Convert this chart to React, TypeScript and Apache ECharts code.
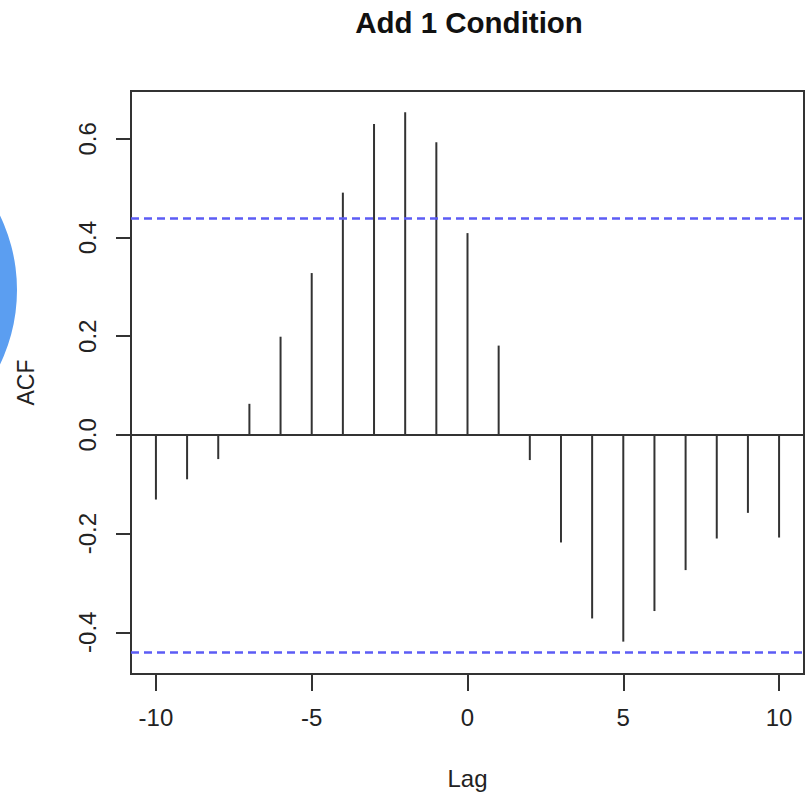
import React, { useEffect, useRef } from "react";
import * as echarts from "echarts";

const lags = [-10, -9, -8, -7, -6, -5, -4, -3, -2, -1, 0, 1, 2, 3, 4, 5, 6, 7, 8, 9, 10];
const acfValues = [
  -0.131, -0.09, -0.049, 0.063, 0.199, 0.328, 0.491, 0.63, 0.654, 0.593, 0.409,
  0.181, -0.051, -0.218, -0.372, -0.419, -0.357, -0.274, -0.21, -0.158, -0.208,
];
const ciBound = 0.441;
const xTicks = [-10, -5, 0, 5, 10];
const yTicks = [-0.4, -0.2, 0, 0.2, 0.4, 0.6];
const titleText = "Add 1 Condition";
const xName = "Lag";
const yName = "ACF";

const FONT = "'Liberation Sans', Arial, Helvetica, sans-serif";
const INK = "#333333";

export default function App() {
  const ref = useRef<HTMLDivElement>(null);

  useEffect(() => {
    if (!ref.current) return;
    const chart = echarts.init(ref.current, null, { renderer: "svg" });
    const data = lags.map((l, i) => [l, acfValues[i]]);
    chart.setOption({
      animation: false,
      backgroundColor: "#ffffff",
      title: {
        text: titleText,
        left: 464,
        top: 2,
        textAlign: "center",
        textStyle: { fontFamily: FONT, fontSize: 29.5, fontWeight: "bold", color: "#111" },
      },
      graphic: [
        {
          type: "circle",
          shape: { cx: -155, cy: 290, r: 172 },
          style: { fill: "#5B9EF1" },
          z: 100,
        },
      ],
      grid: {
        left: 131,
        right: 1,
        top: 91,
        bottom: 123,
        show: true,
        borderColor: INK,
        borderWidth: 2,
        backgroundColor: "transparent",
      },
      xAxis: {
        type: "value",
        min: -10.8,
        max: 10.8,
        name: xName,
        nameLocation: "middle",
        nameGap: 92,
        nameTextStyle: { fontFamily: FONT, fontSize: 24, color: "#222" },
        axisLine: { show: true, onZero: false, lineStyle: { color: INK, width: 2 } },
        axisTick: {
          show: true,
          customValues: xTicks,
          length: 17,
          lineStyle: { color: INK, width: 2 },
        },
        axisLabel: {
          customValues: xTicks,
          margin: 31,
          fontFamily: FONT,
          fontSize: 24,
          color: "#222",
          formatter: (v: number) => String(v),
        },
        splitLine: { show: false },
      },
      yAxis: {
        type: "value",
        min: -0.4846,
        max: 0.697,
        name: yName,
        nameLocation: "middle",
        nameGap: 94,
        nameRotate: 90,
        nameTextStyle: { fontFamily: FONT, fontSize: 23, color: "#222" },
        axisLine: { show: true, onZero: false, lineStyle: { color: INK, width: 2 } },
        axisTick: {
          show: true,
          customValues: yTicks,
          length: 15,
          lineStyle: { color: INK, width: 2 },
        },
        axisLabel: {
          customValues: yTicks,
          rotate: 90,
          margin: 32,
          fontFamily: FONT,
          fontSize: 24,
          color: "#222",
          formatter: (v: number) => v.toFixed(1),
        },
        splitLine: { show: false },
      },
      series: [
        {
          type: "bar",
          data,
          barWidth: 2,
          itemStyle: { color: INK },
          silent: true,
          markLine: {
            silent: true,
            symbol: ["none", "none"],
            label: { show: false },
            data: [
              { yAxis: 0, lineStyle: { color: INK, width: 2, type: "solid" } },
              { yAxis: ciBound, lineStyle: { color: "#5c5cf5", width: 2.5, type: [8, 5] } },
              { yAxis: -ciBound, lineStyle: { color: "#5c5cf5", width: 2.5, type: [8, 5] } },
            ],
          },
        },
      ],
    });
    return () => chart.dispose();
  }, []);

  return (
    <div
      ref={ref}
      style={{ position: "absolute", left: 0, top: 0, width: 805, height: 797 }}
    />
  );
}
